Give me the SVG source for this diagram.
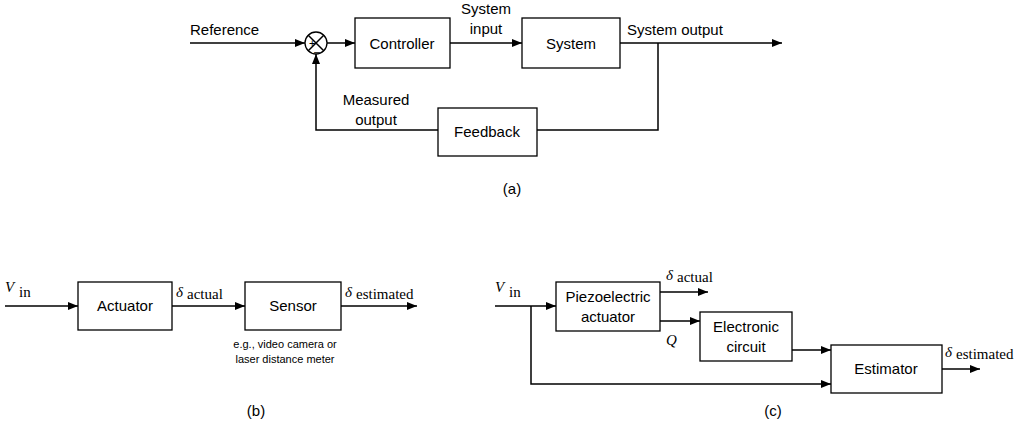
<svg xmlns="http://www.w3.org/2000/svg" width="1024" height="429" viewBox="0 0 1024 429">
<defs><marker id="ar" viewBox="0 0 10 8" refX="10" refY="4" markerWidth="10" markerHeight="8" markerUnits="userSpaceOnUse" orient="auto"><path d="M0,0L10,4L0,8Z" fill="#000"/></marker></defs>
<style>
.b{fill:#fff;stroke:#000;stroke-width:1.3}
.l{fill:none;stroke:#000;stroke-width:1.5}
.a{marker-end:url(#ar)}
text{font-family:"Liberation Sans",Arial,sans-serif;font-size:15px;fill:#000}
.c{text-anchor:middle}
.m{font-family:"Liberation Serif","Times New Roman",serif}
.s{font-size:11px}
</style>
<rect width="1024" height="429" fill="#fff"/>
<g id="connectors">
<path class="l a" d="M190,43H305"/>
<path class="l a" d="M327,43H355"/>
<path class="l a" d="M450,43H522"/>
<path class="l a" d="M620,43H782"/>
<path class="l" d="M658,43V130H537"/>
<path class="l a" d="M438,130H316V54"/>
<path class="l a" d="M5,306H78"/>
<path class="l a" d="M172,306H245"/>
<path class="l a" d="M341,306H417"/>
<path class="l a" d="M495,306H556"/>
<path class="l a" d="M660,292H708"/>
<path class="l a" d="M660,321H700"/>
<path class="l a" d="M792,350H831"/>
<path class="l a" d="M531,306V384H831"/>
<path class="l a" d="M942,369H980"/>
</g>
<g id="sum"><circle cx="316" cy="43" r="11" class="b"/><path class="l" d="M308,35L324,51M324,35L308,51" stroke-width="1"/><text x="309" y="47" class="s">+</text><text x="314" y="55" class="s">–</text></g>
<g id="controller"><rect x="355" y="18" width="95" height="50" class="b"/><text x="402" y="49" class="c">Controller</text></g>
<g id="system"><rect x="522" y="18" width="98" height="50" class="b"/><text x="571" y="49" class="c">System</text></g>
<g id="feedback"><rect x="438" y="108" width="99" height="48" class="b"/><text x="487" y="137" class="c">Feedback</text></g>
<text x="190" y="35">Reference</text>
<text x="486" y="14" class="c">System</text><text x="486" y="34" class="c">input</text>
<text x="627" y="35">System output</text>
<text x="376" y="105" class="c">Measured</text><text x="376" y="125" class="c">output</text>
<text x="512" y="194" class="c" font-size="19">(a)</text>
<g id="actuator"><rect x="78" y="282" width="94" height="48" class="b"/><text x="125" y="311" class="c">Actuator</text></g>
<g id="sensor"><rect x="245" y="282" width="96" height="48" class="b"/><text x="293" y="311" class="c">Sensor</text></g>
<text x="5" y="292" class="m" font-size="22" font-style="italic">V</text><text x="19" y="297" class="m" font-size="15">in</text>
<text x="176" y="297" class="m" font-size="22" font-style="italic">δ</text><text x="187" y="299" class="m" font-size="15">actual</text>
<text x="345" y="297" class="m" font-size="22" font-style="italic">δ</text><text x="356" y="299" class="m" font-size="15">estimated</text>
<text x="285" y="348" class="c s">e.g., video camera or</text><text x="285" y="363" class="c s">laser distance meter</text>
<text x="256" y="416" class="c" font-size="19">(b)</text>
<g id="piezo"><rect x="556" y="282" width="104" height="49" class="b"/><text x="608" y="302" class="c">Piezoelectric</text><text x="608" y="322" class="c">actuator</text></g>
<g id="electronic"><rect x="700" y="312" width="92" height="49" class="b"/><text x="746" y="332" class="c">Electronic</text><text x="746" y="352" class="c">circuit</text></g>
<g id="estimator"><rect x="831" y="345" width="111" height="48" class="b"/><text x="886" y="374" class="c">Estimator</text></g>
<text x="495" y="292" class="m" font-size="22" font-style="italic">V</text><text x="509" y="297" class="m" font-size="15">in</text>
<text x="666" y="280" class="m" font-size="22" font-style="italic">δ</text><text x="677" y="282" class="m" font-size="15">actual</text>
<text x="666" y="345" class="m" font-size="22" font-style="italic">Q</text>
<text x="945" y="357" class="m" font-size="22" font-style="italic">δ</text><text x="956" y="359" class="m" font-size="15">estimated</text>
<text x="773" y="416" class="c" font-size="19">(c)</text>
</svg>
